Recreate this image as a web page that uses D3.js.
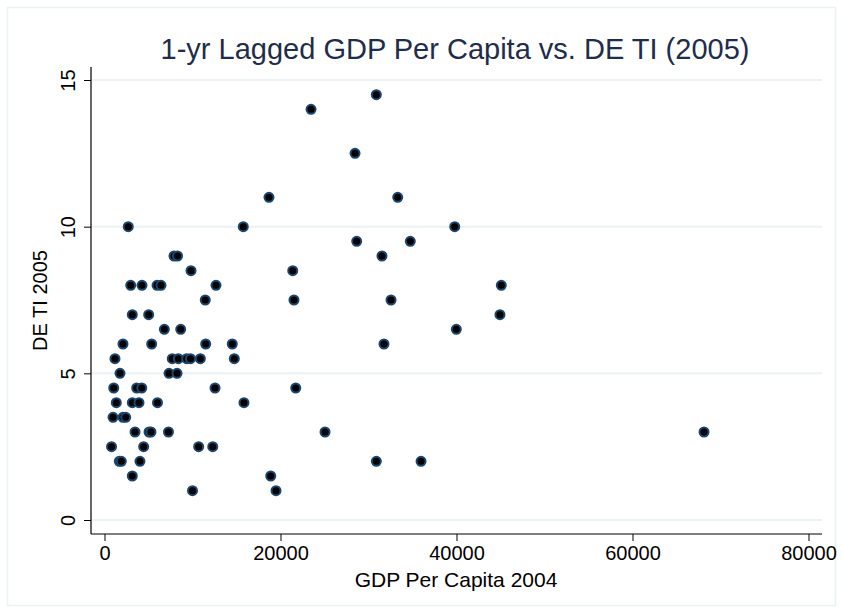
<!DOCTYPE html>
<html>
<head>
<meta charset="utf-8">
<script src="https://cdn.jsdelivr.net/npm/d3@7"></script>
<style>
  html, body { margin: 0; padding: 0; background: #fff; }
  svg { display: block; font-family: "Liberation Sans", Arial, Helvetica, sans-serif; }
</style>
</head>
<body>
<svg id="chart" width="843" height="613"></svg>
<script>
// ---- data ----
const gdp2004 = [
  30890, 23470, 28470, 18690, 33320,
  2700, 15770, 39800, 28660, 34750,
  7900, 8300, 31530, 9830, 21390,
  2980, 4260, 5970, 6420, 12670, 45090,
  11450, 21530, 32560,
  3160, 5020, 44940,
  6800, 8660, 39980,
  2100, 5360, 11500, 14520, 31760,
  1190, 7700, 8390, 9340, 9770, 10890, 14750,
  1760, 7330, 8240,
  1050, 3660, 4230, 12560, 21730,
  1340, 3160, 3920, 6020, 15850,
  970, 2100, 2410,
  3470, 5060, 5280, 7270, 25060, 68130,
  800, 4450, 10700, 12300,
  1680, 1910, 4030, 30890, 35970,
  3160, 18890,
  10000, 19490
];
const deti2005 = [
  14.5, 14.0, 12.5, 11.0, 11.0,
  10.0, 10.0, 10.0, 9.5, 9.5,
  9.0, 9.0, 9.0, 8.5, 8.5,
  8.0, 8.0, 8.0, 8.0, 8.0, 8.0,
  7.5, 7.5, 7.5,
  7.0, 7.0, 7.0,
  6.5, 6.5, 6.5,
  6.0, 6.0, 6.0, 6.0, 6.0,
  5.5, 5.5, 5.5, 5.5, 5.5, 5.5, 5.5,
  5.0, 5.0, 5.0,
  4.5, 4.5, 4.5, 4.5, 4.5,
  4.0, 4.0, 4.0, 4.0, 4.0,
  3.5, 3.5, 3.5,
  3.0, 3.0, 3.0, 3.0, 3.0, 3.0,
  2.5, 2.5, 2.5, 2.5,
  2.0, 2.0, 2.0, 2.0, 2.0,
  1.5, 1.5,
  1.0, 1.0
];
const xTicks = [0, 20000, 40000, 60000, 80000];
const yTicks = [0, 5, 10, 15];
const titleText = "1-yr Lagged GDP Per Capita vs. DE TI (2005)";
const xTitle = "GDP Per Capita 2004";
const yTitle = "DE TI 2005";

// ---- layout ----
const svg = d3.select("#chart");
const W = 843, H = 613;
const plotLeft = 91, plotRight = 822, plotTop = 67, plotBottom = 534;

const x = d3.scaleLinear().domain([0, 80000]).range([104.5, 808.5]);
const y = d3.scaleLinear().domain([0, 15]).range([520, 80]);

// outer frame
svg.append("rect").attr("x", 7.5).attr("y", 7.5).attr("width", W - 15).attr("height", H - 15)
  .attr("fill", "#fff").attr("stroke", "#eaf2f3").attr("stroke-width", 1.5);

// gridlines
svg.append("g").selectAll("line").data(yTicks).join("line")
  .attr("x1", plotLeft).attr("x2", plotRight)
  .attr("y1", d => y(d)).attr("y2", d => y(d))
  .attr("stroke", "#eaf2f3").attr("stroke-width", 2);

// x axis
const xAxis = d3.axisBottom(x).tickValues(xTicks).tickFormat(d3.format("d")).tickSize(7).tickSizeOuter(0);
const gx = svg.append("g").attr("transform", `translate(0,${plotBottom})`).call(xAxis);
gx.select(".domain").remove();
gx.selectAll(".tick line").attr("stroke", "#000").attr("stroke-width", 1);
gx.selectAll(".tick text").attr("font-size", 20).attr("fill", "#000").attr("dy", "0.71em").attr("y", 12);
svg.append("line").attr("x1", plotLeft).attr("x2", plotRight).attr("y1", plotBottom).attr("y2", plotBottom)
  .attr("stroke", "#000").attr("stroke-width", 1.2);

// y axis
const yAxis = d3.axisLeft(y).tickValues(yTicks).tickFormat(d3.format("d")).tickSize(7).tickSizeOuter(0);
const gy = svg.append("g").attr("transform", `translate(${plotLeft},0)`).call(yAxis);
gy.select(".domain").remove();
gy.selectAll(".tick line").attr("stroke", "#000").attr("stroke-width", 1);
gy.selectAll(".tick text")
  .attr("font-size", 20).attr("fill", "#000")
  .attr("x", null).attr("dy", null)
  .attr("text-anchor", "middle")
  .attr("transform", "translate(-16,0) rotate(-90)");
svg.append("line").attr("x1", plotLeft).attr("x2", plotLeft).attr("y1", plotTop).attr("y2", plotBottom)
  .attr("stroke", "#000").attr("stroke-width", 1.2);

// points
svg.append("g").selectAll("circle").data(gdp2004.map((g, i) => [g, deti2005[i]])).join("circle")
  .attr("cx", d => x(d[0])).attr("cy", d => y(d[1])).attr("r", 4.5)
  .attr("fill", "#000").attr("stroke", "#1a476f").attr("stroke-width", 2);

// titles
svg.append("text").attr("x", 455).attr("y", 59).attr("text-anchor", "middle")
  .attr("font-size", 29).attr("fill", "#1e2d4c").text(titleText);
svg.append("text").attr("x", 456).attr("y", 587).attr("text-anchor", "middle")
  .attr("font-size", 21).attr("fill", "#000").text(xTitle);
svg.append("text").attr("transform", `translate(47,${(plotTop + plotBottom) / 2}) rotate(-90)`)
  .attr("text-anchor", "middle").attr("font-size", 20).attr("fill", "#000").text(yTitle);
</script>
</body>
</html>
